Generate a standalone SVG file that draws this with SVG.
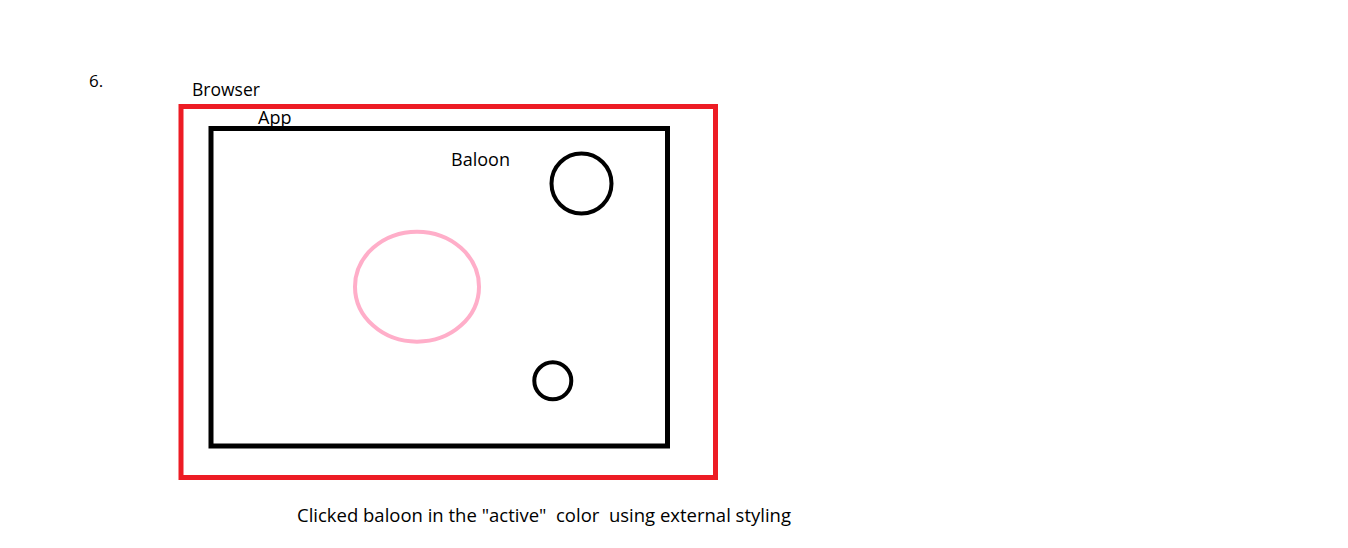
<svg xmlns="http://www.w3.org/2000/svg" width="1348" height="548" viewBox="0 0 1348 548">
<style>
text { font-family: "Open Sans", "Noto Sans", "Liberation Sans", sans-serif; font-size: 18px; fill: #000; white-space: pre; }
.box { fill: none; stroke-width: 5; }
.circ { fill: none; stroke: #000; stroke-width: 4; }
</style>
<rect width="1348" height="548" fill="#fff"/>
<g id="label-6"><text x="89" y="87" style="font-size:17px">6.</text></g>
<g id="browser">
<rect class="box" x="181" y="106.5" width="534.5" height="371" stroke="#ED1C24"/>
<text x="192" y="96" textLength="68" lengthAdjust="spacingAndGlyphs">Browser</text>
</g>
<g id="app">
<rect class="box" x="211" y="128.5" width="456.5" height="317.5" stroke="#000"/>
<text x="258" y="124">App</text>
</g>
<g id="baloon-label"><text x="451" y="166" textLength="59" lengthAdjust="spacingAndGlyphs">Baloon</text></g>
<g id="baloon-1"><circle class="circ" cx="581.5" cy="183.5" r="30"/></g>
<g id="baloon-active"><ellipse cx="417" cy="286.7" rx="62" ry="55" fill="none" stroke="#FFAEC9" stroke-width="4"/></g>
<g id="baloon-2"><circle class="circ" cx="552.8" cy="380.8" r="18.5"/></g>
<g id="caption"><text x="297" y="522" textLength="494" lengthAdjust="spacingAndGlyphs">Clicked baloon in the "active"  color  using external styling</text></g>
<g id="connectors"/>
</svg>
